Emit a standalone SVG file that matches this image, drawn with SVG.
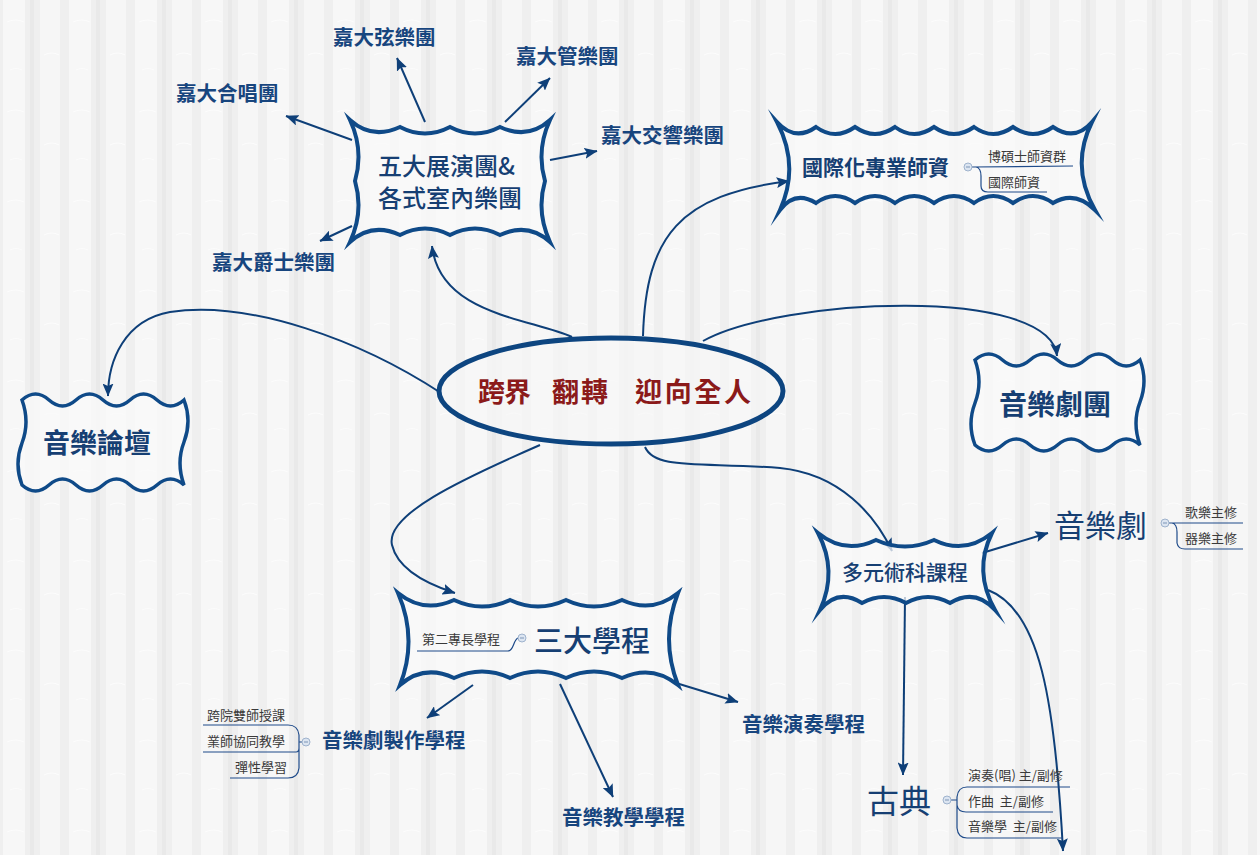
<svg xmlns="http://www.w3.org/2000/svg" width="1260" height="855" viewBox="0 0 1260 855">
  <defs>
    <pattern id="paper" width="66" height="90" patternUnits="userSpaceOnUse">
      <rect width="66" height="90" fill="#efefef"/>
      <rect x="3" width="22" height="90" fill="#f7f7f7"/>
      <rect x="30" width="4" height="90" fill="#e9e9e9"/>
      <rect x="40" width="20" height="90" fill="#f6f6f6"/>
      <path d="M7,22 q9,-4 17,0 M44,55 q8,-4 15,0 M10,70 q6,-3 12,0" fill="none" stroke="#fcfcfc" stroke-width="1.2"/>
    </pattern>
    <marker id="arrow" markerUnits="userSpaceOnUse" markerWidth="13" markerHeight="11" refX="12.5" refY="5.5" orient="auto">
      <path d="M0,0 L13,5.5 L0,11 L2.5,5.5 Z" fill="#0e3f78"/>
    </marker>
    <style>
      .box { fill: #f9f9f9; fill-opacity: 0.75; stroke: #0f4a88; stroke-width: 4; stroke-linejoin: miter; stroke-miterlimit: 20; }
      .flag { fill: #f9f9f9; fill-opacity: 0.75; stroke: #0f4a88; stroke-width: 3.5; }
      .link { fill: none; stroke: #0e3f78; stroke-width: 2; marker-end: url(#arrow); }
      .cjk { font-family: "Noto Sans CJK TC", "Noto Sans CJK SC", sans-serif; }
      .label { font-size: 20.5px; font-weight: 700; fill: #17457e; }
      .boxtext { fill: #163f73; }
      .small { font-size: 13px; fill: #3a3a3a; }
      .twig { fill: none; stroke: #1f4b8a; stroke-width: 1.2; }
      .knob { fill: #dce5f1; stroke: #9fb3cd; stroke-width: 1; }
    </style>
  </defs>

  <rect width="1260" height="855" fill="url(#paper)"/>

  <!-- connectors -->
  <g id="connectors">
    <path class="link" d="M352,140 L286,116"/>
    <path class="link" d="M425,122 L397,58"/>
    <path class="link" d="M505,122 L550,78"/>
    <path class="link" d="M550,160 L597,151"/>
    <path class="link" d="M352,226 L320,241"/>
    <path class="link" d="M572,337 C530,318 440,315 432,246"/>
    <path class="link" d="M643,336 C646,235 680,195 789,181"/>
    <path class="link" d="M703,341 C780,298 1050,285 1057,356"/>
    <path class="link" d="M441,393 C360,340 250,300 170,312 C125,320 108,360 108,396"/>
    <path class="link" d="M540,445 C460,480 385,515 392,545 C398,570 430,585 455,593"/>
    <path class="link" d="M645,447 C655,470 700,462 780,468 C840,474 875,515 892,551"/>
    <path class="link" d="M982,553 L1048,533"/>
    <path class="link" d="M905,597 L903,775"/>
    <path class="link" d="M988,590 C1040,610 1055,700 1063,851"/>
    <path class="link" d="M473,685 L427,718"/>
    <path class="link" d="M560,684 L613,797"/>
    <path class="link" d="M676,683 L738,702"/>
  </g>

  <!-- central theme -->
  <g id="center">
    <ellipse cx="611" cy="391" rx="172" ry="53" fill="#f7f7f7" fill-opacity="0.7" stroke="#0d4580" stroke-width="5"/>
    <g class="cjk" font-size="27" font-weight="700" fill="#8b1a1a">
      <text x="478" y="402" textLength="53" lengthAdjust="spacing">跨界</text>
      <text x="552" y="402" textLength="56" lengthAdjust="spacing">翻轉</text>
      <text x="635" y="402" textLength="116" lengthAdjust="spacing">迎向全人</text>
    </g>
  </g>

  <!-- performing ensembles -->
  <g id="ensembles">
    <path class="box" d="M350,120 Q372,140 400,127 Q425,140 450,127 Q475,140 500,127 Q528,140 550,120 Q536,150 545,181 Q536,212 550,242 Q528,222 500,235 Q475,222 450,235 Q425,222 400,235 Q372,222 350,242 Q364,212 355,181 Q364,150 350,120 Z"/>
    <text class="cjk boxtext" x="378" y="175" font-size="24" font-weight="500">五大展演團&amp;</text>
    <text class="cjk boxtext" x="378" y="207" font-size="24" font-weight="500">各式室內樂團</text>
  </g>
  <g id="choir"><text class="cjk label" x="176" y="101">嘉大合唱團</text></g>
  <g id="strings"><text class="cjk label" x="333" y="45">嘉大弦樂團</text></g>
  <g id="winds"><text class="cjk label" x="516" y="64">嘉大管樂團</text></g>
  <g id="symphony"><text class="cjk label" x="601" y="143">嘉大交響樂團</text></g>
  <g id="jazz"><text class="cjk label" x="212" y="270">嘉大爵士樂團</text></g>

  <!-- faculty -->
  <g id="faculty">
    <path class="box" d="M777,122 Q795,142 816,127 Q835,141 855,127 Q875,141 895,127 Q914,141 934,127 Q954,141 974,127 Q993,141 1013,127 Q1033,141 1053,127 Q1075,142 1092,122 Q1070,166 1095,210 Q1075,190 1053,203 Q1033,189 1013,203 Q993,189 974,203 Q954,189 934,203 Q914,189 895,203 Q875,189 855,203 Q835,189 816,203 Q795,190 780,210 Q800,166 777,122 Z"/>
    <text class="cjk boxtext" x="802" y="175" font-size="21" font-weight="700">國際化專業師資</text>
    <path class="twig" d="M972,167 L1073,166 M976,167 Q981,168 981,176 L981,186 Q981,192 988,192 L1047,192"/>
    <circle class="knob" cx="968" cy="167" r="4"/>
    <path d="M966,167 L970,167" stroke="#7d95b6" stroke-width="1"/>
    <text class="cjk small" x="988" y="161">博碩士師資群</text>
    <text class="cjk small" x="988" y="187">國際師資</text>
  </g>

  <!-- forum -->
  <g id="forum">
    <path class="flag" d="M22,400 q13.5,-12 27,0 t27,0 t27,0 t27,0 t27,0 t27,0 q8,21 0,42 t0,43 q-13.5,-12 -27,0 t-27,0 t-27,0 t-27,0 t-27,0 t-27,0 q-8,-21 0,-42 t0,-43 z"/>
    <text class="cjk boxtext" x="43" y="453" font-size="27" font-weight="700">音樂論壇</text>
  </g>

  <!-- musical theatre company -->
  <g id="company">
    <path class="flag" d="M975,360 q13.75,-12 27.5,0 t27.5,0 t27.5,0 t27.5,0 t27.5,0 t27.5,0 q8,21 0,42 t0,43 q-13.75,-12 -27.5,0 t-27.5,0 t-27.5,0 t-27.5,0 t-27.5,0 t-27.5,0 q-8,-21 0,-42 t0,-43 z"/>
    <text class="cjk boxtext" x="999" y="415" font-size="28" font-weight="700">音樂劇團</text>
  </g>

  <!-- skill courses -->
  <g id="courses">
    <path class="box" d="M818,533 Q845,555 876,540 Q905,553 934,540 Q965,555 992,533 Q973,571 995,610 Q975,588 950,603 Q928,591 906,603 Q884,591 862,603 Q838,588 820,610 Q838,571 818,533 Z"/>
    <text class="cjk boxtext" x="842" y="580" font-size="21" font-weight="500">多元術科課程</text>
  </g>

  <g id="musical">
    <text class="cjk boxtext" x="1054" y="537" font-size="31">音樂劇</text>
    <path class="twig" d="M1169,523 L1243,523 M1172,523 Q1177,524 1177,532 L1177,543 Q1178,549 1185,549 L1243,549"/>
    <circle class="knob" cx="1165" cy="523" r="4"/>
    <path d="M1163,523 L1167,523" stroke="#7d95b6" stroke-width="1"/>
    <text class="cjk small" x="1185" y="517">歌樂主修</text>
    <text class="cjk small" x="1185" y="543">器樂主修</text>
  </g>

  <g id="classical">
    <text class="cjk boxtext" x="867" y="813" font-size="32">古典</text>
    <path class="twig" d="M1070,787 L967,787 Q958,787 957,797 L957,828 Q958,838 967,838 L1063,838 M1053,812 L966,812 Q958,812 957,805 M951,800 L957,800"/>
    <circle class="knob" cx="947" cy="800" r="4"/>
    <path d="M945,800 L949,800" stroke="#7d95b6" stroke-width="1"/>
    <text class="cjk small" x="968" y="780" xml:space="preserve">演奏(唱) 主/副修</text>
    <text class="cjk small" x="968" y="806" xml:space="preserve">作曲  主/副修</text>
    <text class="cjk small" x="968" y="831" xml:space="preserve">音樂學  主/副修</text>
  </g>

  <!-- three programs -->
  <g id="programs">
    <path class="box" d="M398,593 Q424,614 454,600 Q482,613 510,600 Q538,613 566,600 Q594,613 622,600 Q652,614 678,593 Q660,639 678,685 Q652,664 622,678 Q594,665 566,678 Q538,665 510,678 Q482,665 454,678 Q424,664 400,685 Q418,639 398,593 Z"/>
    <text class="cjk boxtext" x="534" y="652" font-size="29" font-weight="500">三大學程</text>
    <path class="twig" d="M417,651 L508,651 C514,651 513,640 518,638"/>
    <circle class="knob" cx="522" cy="638" r="4"/>
    <path d="M520,638 L524,638" stroke="#7d95b6" stroke-width="1"/>
    <text class="cjk small" x="422" y="644">第二專長學程</text>
  </g>

  <g id="production">
    <text class="cjk label" x="322" y="748" font-size="21">音樂劇製作學程</text>
    <path class="twig" d="M203,725 L288,725 Q298,725 299,735 L299,768 Q298,778 288,778 L230,778 M203,752 L296,752 Q299,752 299,748 M299,742 L302,742"/>
    <circle class="knob" cx="306" cy="742" r="4"/>
    <path d="M304,742 L308,742" stroke="#7d95b6" stroke-width="1"/>
    <text class="cjk small" x="207" y="720">跨院雙師授課</text>
    <text class="cjk small" x="207" y="746">業師協同教學</text>
    <text class="cjk small" x="235" y="772">彈性學習</text>
  </g>

  <g id="performance"><text class="cjk label" x="742" y="732" font-size="21">音樂演奏學程</text></g>
  <g id="education"><text class="cjk label" x="562" y="825" font-size="21">音樂教學學程</text></g>
</svg>
